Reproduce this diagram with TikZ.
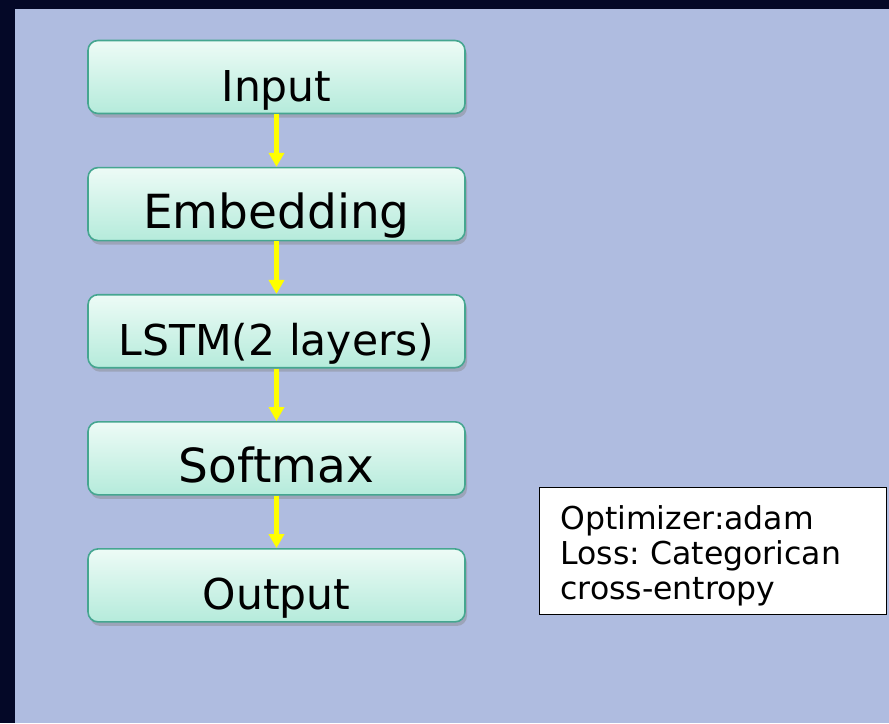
\documentclass[tikz,border=0pt]{standalone}
\usepackage{fontspec}
\setmainfont{DejaVu Sans}
\usetikzlibrary{arrows.meta,positioning,shadows}

\definecolor{navy}{HTML}{040827}
\definecolor{panel}{HTML}{AFBCE0}
\definecolor{boxtop}{HTML}{EDFBF6}
\definecolor{boxbot}{HTML}{B5EBDB}
\definecolor{boxline}{HTML}{45A690}
\definecolor{flow}{HTML}{FFFF00}

\begin{document}
\frenchspacing
\begin{tikzpicture}[
      x=1pt, y=1pt,
      node distance=52.5pt,
      layer/.style={rectangle,rounded corners=10pt,draw=boxline,line width=1.6pt,
        top color=boxtop,bottom color=boxbot,
        minimum width=377pt,minimum height=73pt,inner ysep=0pt,
        text height=48pt,text depth=0pt,
        font=\fontsize{42.5}{50}\selectfont,
        drop shadow={shadow xshift=2pt,shadow yshift=-4pt,opacity=0.4}},
      big/.style={font=\fontsize{47}{54}\selectfont},
      note/.style={draw=black,line width=0.8pt,fill=white,
        minimum width=347pt,minimum height=127pt,
        text width=305pt,inner xsep=21pt,align=left,
        font=\fontsize{31.5}{35}\selectfont},
      >={Triangle[width=15pt,length=14pt]}
    ]
    \useasboundingbox (0,0) rectangle (889,-723);

    % Background
    \fill[navy] (0,0) rectangle (889,-723);
    \fill[panel] (15,-9) rectangle (889,-723);

    % Layers
    \node[layer] (input) at (276.5,-77) {Input};
    \node[layer,big,below=of input] (embed) {Embedding};
    \node[layer,below=of embed] (lstm) {LSTM(2 layers)};
    \node[layer,big,below=of lstm] (softmax) {Softmax};
    \node[layer,below=of softmax] (output) {Output};

    \draw[->,flow,line width=4.5pt] (input) -- (embed);
    \draw[->,flow,line width=4.5pt] (embed) -- (lstm);
    \draw[->,flow,line width=4.5pt] (lstm) -- (softmax);
    \draw[->,flow,line width=4.5pt] (softmax) -- (output);

    % Training settings
    \node[note,anchor=north west] (settings) at (539,-487)
      {\rule{0pt}{34.5pt}Optimizer:adam\\Loss: Categorican\\cross-entropy};

  \end{tikzpicture}
\end{document}
